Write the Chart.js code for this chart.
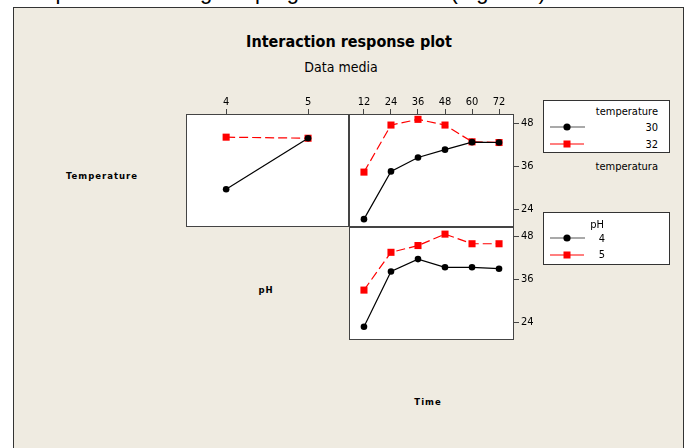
<!DOCTYPE html>
<html>
<head>
<meta charset="utf-8">
<script src="https://cdn.jsdelivr.net/npm/chart.js@4.4.1/dist/chart.umd.min.js"></script>
<style>
html,body{margin:0;padding:0;background:#fff;width:689px;height:448px;overflow:hidden;position:relative;
font-family:'DejaVu Sans Condensed','DejaVu Sans',sans-serif;color:#000}
.abs{position:absolute;white-space:nowrap}
.c{position:absolute;white-space:nowrap;transform:translate(-50%,-50%)}
.r{position:absolute;white-space:nowrap;transform:translateY(-50%);text-align:right}
#doc{left:36px;top:-21px;font:22px 'Liberation Sans',Arial,sans-serif}
#frame{left:13px;top:7px;width:671px;height:460px;background:#efebe1;border:1px solid #333;box-sizing:border-box}
canvas{position:absolute}
.lab{font-family:'DejaVu Sans',sans-serif;font-weight:bold;font-size:8.5px;letter-spacing:1px}
.leg{position:absolute;left:543px;width:127px;height:53px;background:#fff;border:1px solid #333;box-sizing:border-box}
.lg{font-size:11px}
</style>
</head>
<body>
<div id="doc" class="abs">represented using the program Minitab 16 (Figure 4)</div>
<div id="frame" class="abs"></div>

<div class="c" style="left:349px;top:41px;font-weight:bold;font-size:16px">Interaction response plot</div>
<div class="c" style="left:341px;top:67px;font-size:14px">Data media</div>

<div class="c lab" style="left:102px;top:176px">Temperature</div>
<div class="c lab" style="left:266px;top:290px">pH</div>
<div class="c lab" style="left:428px;top:402px">Time</div>

<canvas id="c1" width="163" height="133" style="left:186px;top:94px"></canvas>
<canvas id="c2" width="195" height="133" style="left:349px;top:94px"></canvas>
<canvas id="c3" width="195" height="113" style="left:349px;top:227px"></canvas>

<div class="leg" style="top:100px"></div>
<div class="r lg" style="right:31px;top:111px">temperature</div>
<svg class="abs" style="left:550px;top:121px" width="36" height="12"><line x1="0" y1="6" x2="35" y2="6" stroke="#555" stroke-width="1.2"/><circle cx="17" cy="6" r="3.6" fill="#000"/></svg>
<div class="r lg" style="right:31px;top:127px" id="t30"></div>
<svg class="abs" style="left:550px;top:138px" width="36" height="12"><line x1="0" y1="6" x2="34" y2="6" stroke="#f00" stroke-width="1.2"/><rect x="13.5" y="2.5" width="7" height="7" fill="#f00"/></svg>
<div class="r lg" style="right:31px;top:144px" id="t32"></div>
<div class="r lg" style="right:31px;top:166px">temperatura</div>

<div class="leg" style="top:212px"></div>
<div class="c lg" style="left:597px;top:224px">pH</div>
<svg class="abs" style="left:550px;top:232px" width="36" height="12"><line x1="0" y1="6" x2="35" y2="6" stroke="#555" stroke-width="1.2"/><circle cx="17" cy="6" r="3.6" fill="#000"/></svg>
<div class="c lg" style="left:602px;top:238px" id="p4"></div>
<svg class="abs" style="left:550px;top:249px" width="36" height="12"><line x1="0" y1="6" x2="34" y2="6" stroke="#f00" stroke-width="1.2"/><rect x="13.5" y="2.5" width="7" height="7" fill="#f00"/></svg>
<div class="c lg" style="left:602px;top:254px" id="p5"></div>

<script>
const phLevels = [4, 5];
const timeLevels = [12, 24, 36, 48, 60, 72];
const respTicks = [24, 36, 48];
const tempLabels = ["30", "32"];
const phLabels = ["4", "5"];

// means, temperature lines over pH
const tempByPh30 = [29.6, 43.9];
const tempByPh32 = [44.2, 43.9];
// means, temperature lines over time
const tempByTime30 = [21.2, 34.6, 38.5, 40.7, 42.8, 42.7];
const tempByTime32 = [34.4, 47.6, 49.2, 47.6, 42.9, 42.7];
// means, pH lines over time
const phByTime4 = [22.7, 38.2, 41.7, 39.4, 39.4, 39.0];
const phByTime5 = [33.0, 43.6, 45.5, 48.7, 46.0, 46.0];

document.getElementById("t30").innerText = tempLabels[0];
document.getElementById("t32").innerText = tempLabels[1];
document.getElementById("p4").innerText = phLabels[0];
document.getElementById("p5").innerText = phLabels[1];

const tickFont = {family: "'DejaVu Sans Condensed','DejaVu Sans',sans-serif", size: 11};
const axisColor = "#444";

const panelBox = {
  id: "panelBox",
  beforeDraw(chart) {
    const a = chart.chartArea, c = chart.ctx;
    c.save();
    c.fillStyle = "#fff";
    c.fillRect(a.left, a.top, a.right - a.left, a.bottom - a.top);
    c.restore();
  },
  afterDraw(chart) {
    const a = chart.chartArea, c = chart.ctx;
    c.save();
    c.strokeStyle = axisColor;
    c.lineWidth = 1;
    c.strokeRect(a.left + 0.5, a.top + 0.5, a.right - a.left - 1, a.bottom - a.top - 1);
    c.restore();
  }
};

function pts(xs, ys) {
  return xs.map((x, i) => ({x: x, y: ys[i]}));
}

function lowLine(xs, ys) {
  return {data: pts(xs, ys), borderColor: "#000", borderWidth: 1.2,
    pointStyle: "circle", pointRadius: 3.3, pointBackgroundColor: "#000", pointBorderWidth: 0};
}
function highLine(xs, ys) {
  return {data: pts(xs, ys), borderColor: "#f00", borderWidth: 1.2, borderDash: [9, 4],
    pointStyle: "rect", pointRadius: 5, pointBackgroundColor: "#f00", pointBorderWidth: 0};
}

function noPad(s) {
  s.paddingTop = 0; s.paddingBottom = 0; s.paddingLeft = 0; s.paddingRight = 0;
}

function xAxis(lo, hi, ticks, show) {
  return {
    type: "linear", position: "top", min: lo, max: hi, display: show,
    afterBuildTicks: s => { s.ticks = ticks.map(v => ({value: v})); },
    afterFit: s => { s.height = show ? 20 : 0; noPad(s); },
    grid: {drawOnChartArea: false, drawTicks: true, tickLength: 5, color: axisColor},
    border: {display: false},
    ticks: {font: tickFont, color: "#000", padding: 0, maxRotation: 0}
  };
}
function yAxis(show) {
  return {
    type: "linear", position: "right", min: 19.0, max: 50.7, display: show,
    afterBuildTicks: s => { s.ticks = respTicks.map(v => ({value: v})); },
    afterFit: s => { s.width = show ? 30 : 0; noPad(s); },
    grid: {drawOnChartArea: false, drawTicks: true, tickLength: 5, color: axisColor},
    border: {display: false},
    ticks: {font: tickFont, color: "#000", padding: 2}
  };
}

function panel(id, datasets, xs, ys) {
  return new Chart(document.getElementById(id), {
    type: "line",
    data: {datasets: datasets},
    options: {
      responsive: false, animation: false,
      layout: {padding: 0, autoPadding: false},
      plugins: {legend: {display: false}, tooltip: {enabled: false}},
      elements: {line: {tension: 0}},
      scales: {x: xs, y: ys}
    },
    plugins: [panelBox]
  });
}

panel("c1",
  [lowLine(phLevels, tempByPh30), highLine(phLevels, tempByPh32)],
  xAxis(3.51, 5.5, phLevels, true), yAxis(false));

panel("c2",
  [lowLine(timeLevels, tempByTime30), highLine(timeLevels, tempByTime32)],
  xAxis(5.35, 78.65, timeLevels, true), yAxis(true));

panel("c3",
  [lowLine(timeLevels, phByTime4), highLine(timeLevels, phByTime5)],
  xAxis(5.35, 78.65, timeLevels, false), yAxis(true));
</script>
</body>
</html>
